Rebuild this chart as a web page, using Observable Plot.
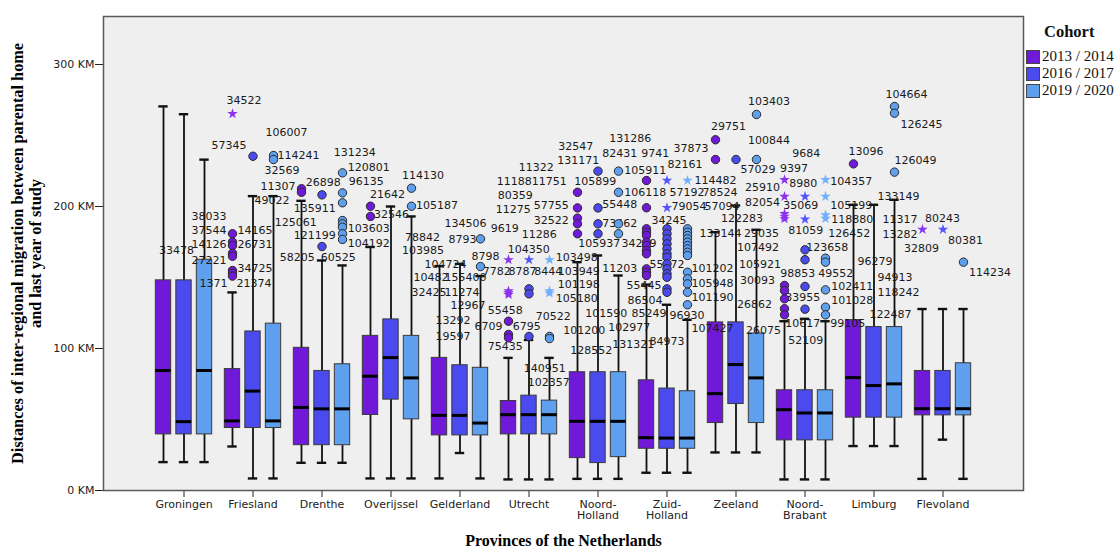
<!DOCTYPE html>
<html><head><meta charset="utf-8">
<script src="https://cdn.jsdelivr.net/npm/d3@7"></script>
<script src="https://cdn.jsdelivr.net/npm/@observablehq/plot@0.6"></script>
<style>
body{margin:0;background:#fff;}
#wrap{position:relative;width:1118px;height:549px;overflow:hidden;}
#wrap svg{position:absolute;left:0;top:0;}
.lg{position:absolute;font-family:"Liberation Serif","Times New Roman",serif;color:#111;white-space:nowrap;}
.lgt{font-weight:bold;font-size:16.5px;line-height:18px;}
.lgr{font-size:15px;line-height:17px;}
.sw{position:absolute;width:12px;height:12px;border:1px solid #444;}
</style></head><body><div id="wrap"></div>
<script>
// ---------- data ----------
const provinces = ["Groningen","Friesland","Drenthe","Overijssel","Gelderland","Utrecht","Noord-Holland","Zuid-Holland","Zeeland","Noord-Brabant","Limburg","Flevoland"];
const provinceTickLabels = ["Groningen","Friesland","Drenthe","Overijssel","Gelderland","Utrecht","Noord-\nHolland","Zuid-\nHolland","Zeeland","Noord-\nBrabant","Limburg","Flevoland"];
const cohorts = ["2013 / 2014","2016 / 2017","2019 / 2020"];
const yTicks = [0,100,200,300];

// box statistics in KM, per province, per cohort
const whiskerLow = [[20,20,20],[31,8.5,8.5],[19.5,19.5,19.5],[8.5,8.5,8.5],[8.5,26.4,8.5],[7.8,7.8,7.8],[8.2,8.2,8.2],[12.5,12.5,12.5],[26.8,26.8,26.8],[7.8,7.8,7.8],[31.3,31.3,31.3],[8.2,35.8,8.2]];
const quartile1 = [[39.5,39.5,39.5],[44,44,44],[31.9,31.9,31.9],[53.2,64,50.1],[38.8,38.8,38.8],[39.5,39.5,39.5],[22.8,19.3,23.5],[29.4,29.4,29.4],[47.5,60.9,47.5],[35.3,35.3,35.3],[51.3,51.3,51.3],[52.9,52.9,52.9]];
const medians = [[84.5,48.5,84.5],[49,70,49],[58.5,57.5,57.5],[80.5,93.6,79.3],[52.9,52.9,47.5],[53.4,53.4,53.4],[48.7,48.7,48.7],[37.2,36.9,36.9],[68.2,88.7,79.3],[56.9,54.6,54.6],[79.5,73.9,75.1],[57.6,57.6,57.6]];
const quartile3 = [[148,148,162.5],[85.5,112,117.5],[100.5,84.2,88.9],[108.9,120.5,108.9],[93.4,88.2,86.4],[63,66.8,63.3],[83.3,83.3,83.3],[77.6,71.8,69.9],[118.4,118.4,110.6],[70.6,70.6,70.6],[120,115.1,115.1],[84.2,84.2,89.6]];
const whiskerHigh = [[270.5,265,233],[139.5,207.3,207.3],[204,162,158.5],[171.5,200,193],[158,159.6,151],[93.4,106,93.4],[160.8,165.5,151.4],[145,130.8,120.2],[181.9,200.7,183.6],[119.2,120.9,119.2],[201.2,201.2,204.7],[127.8,127.8,127.8]];

// outliers (circles): [province, cohort index, KM]
const outlierCases = [
 ["Friesland",0,180.8],["Friesland",0,175],["Friesland",0,172.5],["Friesland",0,167.1],["Friesland",0,165],["Friesland",0,154.9],["Friesland",0,153],["Friesland",0,151],
 ["Friesland",1,235.4],["Friesland",2,235.9],["Friesland",2,233.1],
 ["Drenthe",0,212.5],["Drenthe",0,210],["Drenthe",1,208.2],["Drenthe",1,171.8],
 ["Drenthe",2,223.7],["Drenthe",2,209.6],["Drenthe",2,202.6],["Drenthe",2,190.1],["Drenthe",2,187.8],["Drenthe",2,185.4],["Drenthe",2,180.8],["Drenthe",2,176.8],
 ["Overijssel",0,200.2],["Overijssel",0,193],["Overijssel",2,212.9],["Overijssel",2,200.2],
 ["Gelderland",2,177.2],["Gelderland",2,157.7],
 ["Utrecht",0,119.2],["Utrecht",0,109.9],["Utrecht",0,107.5],["Utrecht",1,142],["Utrecht",1,138.5],["Utrecht",1,108.5],["Utrecht",2,108.5],["Utrecht",2,107],
 ["Noord-Holland",0,210],["Noord-Holland",0,199],["Noord-Holland",0,191.8],["Noord-Holland",0,187.8],["Noord-Holland",0,180.8],
 ["Noord-Holland",1,224.9],["Noord-Holland",1,199],["Noord-Holland",1,187.8],["Noord-Holland",1,180.8],
 ["Noord-Holland",2,224.9],["Noord-Holland",2,210],["Noord-Holland",2,187.8],["Noord-Holland",2,180.8],
 ["Zuid-Holland",0,218.3],["Zuid-Holland",0,199.1],["Zuid-Holland",0,184.3],["Zuid-Holland",0,181.9],["Zuid-Holland",0,179.6],["Zuid-Holland",0,174.9],["Zuid-Holland",0,172.5],["Zuid-Holland",0,169],["Zuid-Holland",0,166.7],["Zuid-Holland",0,156.1],["Zuid-Holland",0,153.7],["Zuid-Holland",0,151.4],
 ["Zuid-Holland",1,184.3],["Zuid-Holland",1,180.8],["Zuid-Holland",1,177.3],["Zuid-Holland",1,173.7],["Zuid-Holland",1,170.2],["Zuid-Holland",1,166.7],["Zuid-Holland",1,164.3],["Zuid-Holland",1,159.6],["Zuid-Holland",1,156.1],["Zuid-Holland",1,152.6],["Zuid-Holland",1,150.2],["Zuid-Holland",1,142],["Zuid-Holland",1,139.6],
 ["Zuid-Holland",2,184.3],["Zuid-Holland",2,181.9],["Zuid-Holland",2,179.6],["Zuid-Holland",2,177.3],["Zuid-Holland",2,174.9],["Zuid-Holland",2,172.5],["Zuid-Holland",2,170.2],["Zuid-Holland",2,167.8],["Zuid-Holland",2,165.5],["Zuid-Holland",2,153.7],["Zuid-Holland",2,149.1],["Zuid-Holland",2,145.5],["Zuid-Holland",2,139.6],["Zuid-Holland",2,130.8],
 ["Zeeland",0,247],["Zeeland",0,233.1],["Zeeland",1,233.1],["Zeeland",2,264.8],["Zeeland",2,233.1],
 ["Noord-Brabant",0,144.4],["Noord-Brabant",0,140.8],["Noord-Brabant",0,135],["Noord-Brabant",0,128],["Noord-Brabant",0,123.7],
 ["Noord-Brabant",1,169.5],["Noord-Brabant",1,162.5],["Noord-Brabant",1,143.7],["Noord-Brabant",1,127.7],
 ["Noord-Brabant",2,163.6],["Noord-Brabant",2,160.8],["Noord-Brabant",2,141.3],["Noord-Brabant",2,129.1],["Noord-Brabant",2,123.7],
 ["Limburg",0,230],["Limburg",2,270.4],["Limburg",2,265.7],["Limburg",2,224.2],
 ["Flevoland",2,160.8]
];
// extreme values (stars): [province, cohort index, KM]
const extremeCases = [
 ["Friesland",0,265.3],
 ["Utrecht",0,162.4],["Utrecht",0,140.5],["Utrecht",0,139.2],["Utrecht",0,138],["Utrecht",1,162.4],["Utrecht",2,162.4],["Utrecht",2,140.5],["Utrecht",2,139],
 ["Zuid-Holland",1,218.3],["Zuid-Holland",1,199.1],["Zuid-Holland",2,218.3],
 ["Noord-Brabant",0,218.8],["Noord-Brabant",0,207],["Noord-Brabant",0,194.9],["Noord-Brabant",0,193],["Noord-Brabant",0,191.3],
 ["Noord-Brabant",1,207],["Noord-Brabant",1,191],
 ["Noord-Brabant",2,218.8],["Noord-Brabant",2,207],["Noord-Brabant",2,194],["Noord-Brabant",2,191.5],
 ["Flevoland",0,183.8],["Flevoland",1,183.8]
];
// case labels: [text, province, KM]
const caseLabels = [
 ["33478","Groningen",169.0],
 ["34522","Friesland",274.6],["57345","Friesland",243.0],["106007","Friesland",252.1],["114241","Friesland",235.9],["32569","Friesland",225.4],["11307","Friesland",214.1],["49022","Friesland",204.2],
 ["38033","Friesland",193.0],["37544","Friesland",183.1],["14165","Friesland",183.1],["14126","Friesland",173.2],["26731","Friesland",173.2],["27221","Friesland",162.0],["34725","Friesland",156.3],["1371","Friesland",145.8],["21374","Friesland",145.8],
 ["26898","Drenthe",216.9],["135911","Drenthe",198.6],["125061","Drenthe",188.7],["121199","Drenthe",179.6],["58205","Drenthe",164.1],["60525","Drenthe",164.1],
 ["131234","Drenthe",238.0],["120801","Drenthe",227.5],["96135","Drenthe",217.6],["103603","Drenthe",184.5],["104192","Drenthe",173.9],
 ["21642","Overijssel",208.5],["32546","Overijssel",194.4],["114130","Overijssel",221.8],["105187","Overijssel",200.7],["78842","Overijssel",178.2],["103985","Overijssel",169.0],
 ["134506","Gelderland",188.0],["8793","Gelderland",176.8],["8798","Gelderland",164.8],["104724","Gelderland",159.2],["10482","Gelderland",150.0],["155400","Gelderland",150.0],
 ["32425","Gelderland",139.4],["11274","Gelderland",139.4],["12967","Gelderland",130.3],["13292","Gelderland",119.7],["19597","Gelderland",108.5],["6709","Gelderland",115.5],
 ["11322","Utrecht",227.5],["11188","Utrecht",217.6],["11751","Utrecht",217.6],["80359","Utrecht",207.7],["11275","Utrecht",197.9],["57755","Utrecht",200.7],["32522","Utrecht",190.1],
 ["9619","Utrecht",184.5],["11286","Utrecht",180.3],["104350","Utrecht",169.7],["103498","Utrecht",164.1],["7782","Utrecht",154.2],["8787","Utrecht",154.2],["8444","Utrecht",154.2],
 ["103949","Utrecht",154.4],["101198","Utrecht",145.1],["105180","Utrecht",135.2],["55458","Utrecht",126.8],["6795","Utrecht",115.5],["70522","Utrecht",122.5],["75435","Utrecht",101.4],
 ["140951","Utrecht",85.9],["102357","Utrecht",76.1],
 ["32547","Noord-Holland",242.3],["131171","Noord-Holland",232.4],["131286","Noord-Holland",247.9],["82431","Noord-Holland",237.3],["9741","Noord-Holland",237.3],
 ["105899","Noord-Holland",217.6],["105911","Noord-Holland",225.4],["106118","Noord-Holland",209.9],["55448","Noord-Holland",201.4],["73462","Noord-Holland",188.0],
 ["105937","Noord-Holland",173.9],["11203","Noord-Holland",156.3],["101200","Noord-Holland",112.7],["128552","Noord-Holland",98.6],["101590","Noord-Holland",124.6],
 ["102977","Noord-Holland",114.8],["131321","Noord-Holland",102.8],
 ["34229","Zuid-Holland",173.9],["37873","Zuid-Holland",240.8],["82161","Zuid-Holland",229.6],["114482","Zuid-Holland",218.3],["57192","Zuid-Holland",209.9],["78524","Zuid-Holland",209.9],
 ["79054","Zuid-Holland",200.0],["57094","Zuid-Holland",200.0],["34245","Zuid-Holland",190.1],["55472","Zuid-Holland",159.2],["101202","Zuid-Holland",156.3],["105948","Zuid-Holland",145.8],
 ["101190","Zuid-Holland",135.9],["55445","Zuid-Holland",144.4],["86504","Zuid-Holland",133.8],["85249","Zuid-Holland",124.6],["96930","Zuid-Holland",123.2],["84973","Zuid-Holland",104.9],
 ["107427","Zuid-Holland",114.1],["133144","Zuid-Holland",181.2],
 ["29035","Zeeland",181.2],["29751","Zeeland",256.3],["103403","Zeeland",273.9],["100844","Zeeland",246.5],["57029","Zeeland",226.1],["25910","Zeeland",213.4],["82054","Zeeland",202.8],
 ["122283","Zeeland",191.5],["107492","Zeeland",171.1],["105921","Zeeland",159.2],["30093","Zeeland",147.9],["26862","Zeeland",131.0],["26075","Zeeland",112.7],
 ["9397","Noord-Brabant",226.5],["9684","Noord-Brabant",237.3],["8980","Noord-Brabant",216.2],["104357","Noord-Brabant",217.6],["35069","Noord-Brabant",200.7],["105199","Noord-Brabant",200.7],
 ["118880","Noord-Brabant",190.8],["81059","Noord-Brabant",183.1],["126452","Noord-Brabant",181.0],["123658","Noord-Brabant",171.1],["98853","Noord-Brabant",152.8],["49552","Noord-Brabant",152.8],
 ["102411","Noord-Brabant",143.7],["33955","Noord-Brabant",135.9],["101028","Noord-Brabant",133.8],["10617","Noord-Brabant",117.6],["52109","Noord-Brabant",105.6],["99105","Noord-Brabant",117.6],
 ["104664","Limburg",278.9],["126245","Limburg",257.7],["13096","Limburg",238.7],["126049","Limburg",232.4],["133149","Limburg",207.0],["11317","Limburg",190.8],["13282","Limburg",180.3],
 ["96279","Limburg",161.3],["94913","Limburg",150.0],["118242","Limburg",139.4],["122487","Limburg",123.9],
 ["80243","Flevoland",191.5],["32809","Flevoland",170.4],["80381","Flevoland",176.1],["114234","Flevoland",153.5]
];

// ---------- layout / style (pixels) ----------
const labelDx = [
 -25,
 -26.6,-41.6,12.4,24.4,11.4,7.4,1.4,
 -61.6,-61.6,-15.6,-61.6,-15.6,-61.6,-15.6,-53.6,-16.6,
 -16.3,-28.3,-47.3,-28.3,-42.3,-1.3,
 11.7,25.7,26.7,25.7,25.7,
 -20.9,-16.9,11.1,25.1,14.1,11.1,
 -15.6,-11.6,11.4,-35.6,-46.6,-15.6,
 -48.6,-15.6,-9.6,-24.6,-24.6,14.4,
 -10.2,-32.2,2.8,-31.2,-33.2,4.8,4.8,
 -38.2,-7.2,-21.2,26.8,-46.2,-20.6,5.2,
 28.8,28.8,26.8,-41.2,-16.2,6.8,-41.2,
 -5.2,-1.2,
 -39.8,-40.8,11.2,4.2,43.2,
 -23.8,26.2,26.2,4.2,4.2,
 -19.8,4.2,-34.8,-27.8,-12.8,
 10.2,14.2,
 -45.5,6.5,0.5,27.5,2.5,35.5,
 4.5,37.5,-15.5,-17.5,24.5,24.5,
 24.5,-40.5,-39.5,-35.5,2.5,-17.5,
 24.5,32.5,
 7.9,-25.1,11.9,11.9,4.6,8.9,8.9,
 -15.1,0.9,2.9,3.9,0.9,9.9,
 -25,-12.8,-15.8,25.2,-21.8,25.2,
 26.2,-16.8,23.2,1.2,-24.8,13.2,
 26.2,-19.8,26.2,-19.8,-16.8,25.2,
 11.6,26.6,-25.4,20.6,3.6,8.6,8.6,
 -16.4,3.6,3.6,-4.4,
 -18,-39,5,26
];
const W = 1118, H = 549, ML = 103, MR = 95, MT = 16, MB = 59;
const padOuter = 0.605;
const bw = (W - ML - MR) / (provinces.length + 2 * padOuter);
const offsets = [-20.5, 0, 20.5];
const boxFill = ["#7119d8", "#4a4aee", "#5e9fee"];
const starFill = ["#8b33ee", "#5555ff", "#6fb0ff"];
const boxW = 16, capW = 10;
const inset = (j, w) => ({insetLeft: (bw - w) / 2 + offsets[j], insetRight: (bw - w) / 2 - offsets[j]});

const rows = [];
provinces.forEach((p, i) => cohorts.forEach((c, j) => rows.push({
  province: p, cohort: j, low: whiskerLow[i][j], q1: quartile1[i][j], med: medians[i][j], q3: quartile3[i][j], high: whiskerHigh[i][j]
})));

const marks = [Plot.frame({fill: "#efefef", stroke: "#5a5a5a", strokeWidth: 1.5})];
for (let j = 0; j < 3; j++) {
  const r = rows.filter(d => d.cohort === j);
  marks.push(Plot.ruleX(r, {x: "province", y1: "low", y2: "high", dx: offsets[j], stroke: "#111", strokeWidth: 1.8}));
  marks.push(Plot.tickY(r, {x: "province", y: "low", stroke: "#111", strokeWidth: 2.4, ...inset(j, capW)}));
  marks.push(Plot.tickY(r, {x: "province", y: "high", stroke: "#111", strokeWidth: 2.4, ...inset(j, capW)}));
  marks.push(Plot.barY(r, {x: "province", y1: "q1", y2: "q3", fill: boxFill[j], stroke: "#3a3a3a", strokeWidth: 1, ...inset(j, boxW)}));
  marks.push(Plot.tickY(r, {x: "province", y: "med", stroke: "#000", strokeWidth: 3, ...inset(j, boxW)}));
}
caseLabels.forEach((l, i) => marks.push(Plot.text([l], {
  x: d => d[1], y: d => d[2], text: d => d[0], dx: labelDx[i], textAnchor: "start",
  fontSize: 11, fill: "#1a1a1a", fontFamily: "DejaVu Sans"
})));
for (let j = 0; j < 3; j++) {
  marks.push(Plot.dot(outlierCases.filter(d => d[1] === j), {x: d => d[0], y: d => d[2], dx: offsets[j], r: 4.2, fill: boxFill[j], stroke: "#2a2a2a", strokeWidth: 1}));
  marks.push(Plot.dot(extremeCases.filter(d => d[1] === j), {x: d => d[0], y: d => d[2], dx: offsets[j], r: 3.3, symbol: "star", fill: starFill[j], stroke: "none"}));
}
marks.push(Plot.text(["Distances of inter-regional migration between parental home\nand last year of study"], {
  text: d => d, frameAnchor: "left", dx: -77, rotate: -90, textAnchor: "middle", lineAnchor: "middle", lineHeight: 1.12,
  fontFamily: "Liberation Serif", fontWeight: "bold", fontSize: 16.3, fill: "#000"
}));
marks.push(Plot.text(["Provinces of the Netherlands"], {
  text: d => d, frameAnchor: "bottom", dy: 50, textAnchor: "middle", lineAnchor: "middle",
  fontFamily: "Liberation Serif", fontWeight: "bold", fontSize: 16, fill: "#000"
}));

const chart = Plot.plot({
  width: W, height: H, marginLeft: ML, marginRight: MR, marginTop: MT, marginBottom: MB,
  style: {fontFamily: "DejaVu Sans", fontSize: "11px", color: "#222", background: "transparent"},
  x: {type: "band", domain: provinces, paddingInner: 0, paddingOuter: padOuter, tickSize: 7, tickPadding: 3,
      tickFormat: d => provinceTickLabels[provinces.indexOf(d)], label: null},
  y: {domain: [0, (490 - 16) / 1.42], ticks: yTicks, tickFormat: d => `${d} KM`, tickSize: 8, tickPadding: 1, label: null},
  marks
});
const wrap = document.getElementById("wrap");
wrap.appendChild(chart);

// legend
const t = document.createElement("div");
t.className = "lg lgt"; t.style.left = "1044px"; t.style.top = "23px"; t.textContent = "Cohort";
wrap.appendChild(t);
cohorts.forEach((c, j) => {
  const s = document.createElement("div");
  s.className = "sw"; s.style.left = "1026px"; s.style.top = (50 + 17 * j) + "px"; s.style.background = boxFill[j];
  wrap.appendChild(s);
  const l = document.createElement("div");
  l.className = "lg lgr"; l.style.left = "1042px"; l.style.top = (48 + 17 * j) + "px"; l.textContent = c;
  wrap.appendChild(l);
});
</script></body></html>
